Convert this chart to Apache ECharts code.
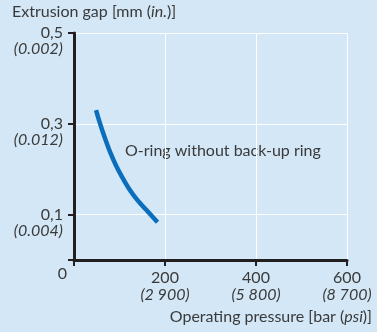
<!DOCTYPE html>
<html>
<head>
<meta charset="utf-8">
<script src="https://cdn.jsdelivr.net/npm/echarts@6/dist/echarts.min.js"></script>
<style>
html,body{margin:0;padding:0;background:#d3e7f6;}
#chart{width:377px;height:332px;}
</style>
</head>
<body>
<div id="chart"></div>
<script>
// Curve: O-ring without back-up ring  [pressure bar, extrusion gap mm]
const pressure = [48.4, 54.9, 62.6, 71.4, 81.3, 92.3, 105.5, 120.9, 138.5, 158.2, 183.5];
const gap = [0.330, 0.308, 0.284, 0.259, 0.233, 0.208, 0.183, 0.157, 0.133, 0.111, 0.083];
const seriesName = 'O-ring without back-up ring';

const yTickValues = [0, 0.1, 0.3, 0.5];
const yTickMain = { 0.1: '0,1', 0.3: '0,3', 0.5: '0,5' };
const yTickSub = { 0.1: '(0.004)', 0.3: '(0.012)', 0.5: '(0.002)' };
const yZeroLabel = '0';

const xTickValues = [0, 200, 400, 600];
const xLabelValues = [200, 400, 600];
const xTickSub = { 200: '(2 900)', 400: '(5 800)', 600: '(8 700)' };

const yName = ['Extrusion gap [mm (', 'in.', ')]'];
const xName = ['Operating pressure [bar (', 'psi', ')]'];

const FONT = 'Lato';
const FS = 16;
const TXT = '#3a3a3a';
const AXIS = '#231f20';

const chart = echarts.init(document.getElementById('chart'), null, { renderer: 'canvas' });
const data = pressure.map((p, i) => [p, gap[i]]);

chart.setOption({
  backgroundColor: '#d3e7f6',
  animation: false,
  grid: { left: 74, right: 30, top: 33, bottom: 72, containLabel: false },
  xAxis: {
    type: 'value', min: 0, max: 600, interval: 100,
    axisLine: { show: true, onZero: false, lineStyle: { color: AXIS, width: 3 } },
    axisTick: { show: true, customValues: xTickValues, length: 6, lineStyle: { color: AXIS, width: 2 } },
    splitLine: { show: true, lineStyle: { color: '#ffffff', width: 1 } },
    axisLabel: {
      customValues: xLabelValues, margin: 9, color: TXT, fontFamily: FONT, fontSize: FS,
      lineHeight: 17,
      formatter: v => '{a|' + v + '}\n{b|' + xTickSub[v] + '}',
      rich: {
        a: { fontFamily: FONT, fontSize: FS, color: TXT, lineHeight: 17 },
        b: { fontFamily: FONT, fontSize: FS, color: TXT, fontStyle: 'italic', lineHeight: 17 }
      }
    }
  },
  yAxis: {
    type: 'value', min: 0, max: 0.5, interval: 0.1,
    axisLine: { show: true, onZero: false, lineStyle: { color: AXIS, width: 3 } },
    axisTick: { show: true, customValues: yTickValues, length: 6, lineStyle: { color: AXIS, width: 2 } },
    splitLine: { show: true, lineStyle: { color: '#ffffff', width: 1 } },
    axisLabel: {
      customValues: yTickValues, margin: 7, color: TXT, fontFamily: FONT, fontSize: FS,
      lineHeight: 16, align: 'right',
      formatter: v => {
        if (v === 0) return '{e0| }\n{z|' + yZeroLabel + '}';
        const k = Math.round(v * 10) / 10;
        return '{e| }\n{a|' + yTickMain[k] + '}\n{b|' + yTickSub[k] + '}';
      },
      rich: {
        e: { fontSize: FS, lineHeight: 16 },
        e0: { fontSize: FS, lineHeight: 27 },
        a: { fontFamily: FONT, fontSize: FS, color: TXT, lineHeight: 16, align: 'right', padding: [0, 4, 0, 0] },
        b: { fontFamily: FONT, fontSize: FS, color: TXT, fontStyle: 'italic', lineHeight: 16, align: 'right', padding: [0, 4, 0, 0] },
        z: { fontFamily: FONT, fontSize: FS, color: TXT, lineHeight: 16, align: 'right' }
      }
    }
  },
  graphic: [
    {
      type: 'text', left: 12, top: 4,
      style: {
        text: '{n|' + yName[0] + '}{i|' + yName[1] + '}{n|' + yName[2] + '}',
        rich: {
          n: { fontFamily: FONT, fontSize: FS, fill: TXT },
          i: { fontFamily: FONT, fontSize: FS, fill: TXT, fontStyle: 'italic' }
        }
      }
    },
    {
      type: 'text', right: 5, top: 309,
      style: {
        text: '{n|' + xName[0] + '}{i|' + xName[1] + '}{n|' + xName[2] + '}',
        rich: {
          n: { fontFamily: FONT, fontSize: FS, fill: TXT },
          i: { fontFamily: FONT, fontSize: FS, fill: TXT, fontStyle: 'italic' }
        }
      }
    },
    {
      type: 'text', left: 125, top: 143,
      style: { text: seriesName, fontFamily: FONT, fontSize: FS, fill: TXT }
    }
  ],
  series: [{
    name: seriesName, type: 'line', data: data, smooth: 0.3, showSymbol: false,
    lineStyle: { color: '#0a6ebd', width: 4.5, cap: 'butt' }
  }]
});
</script>
</body>
</html>
